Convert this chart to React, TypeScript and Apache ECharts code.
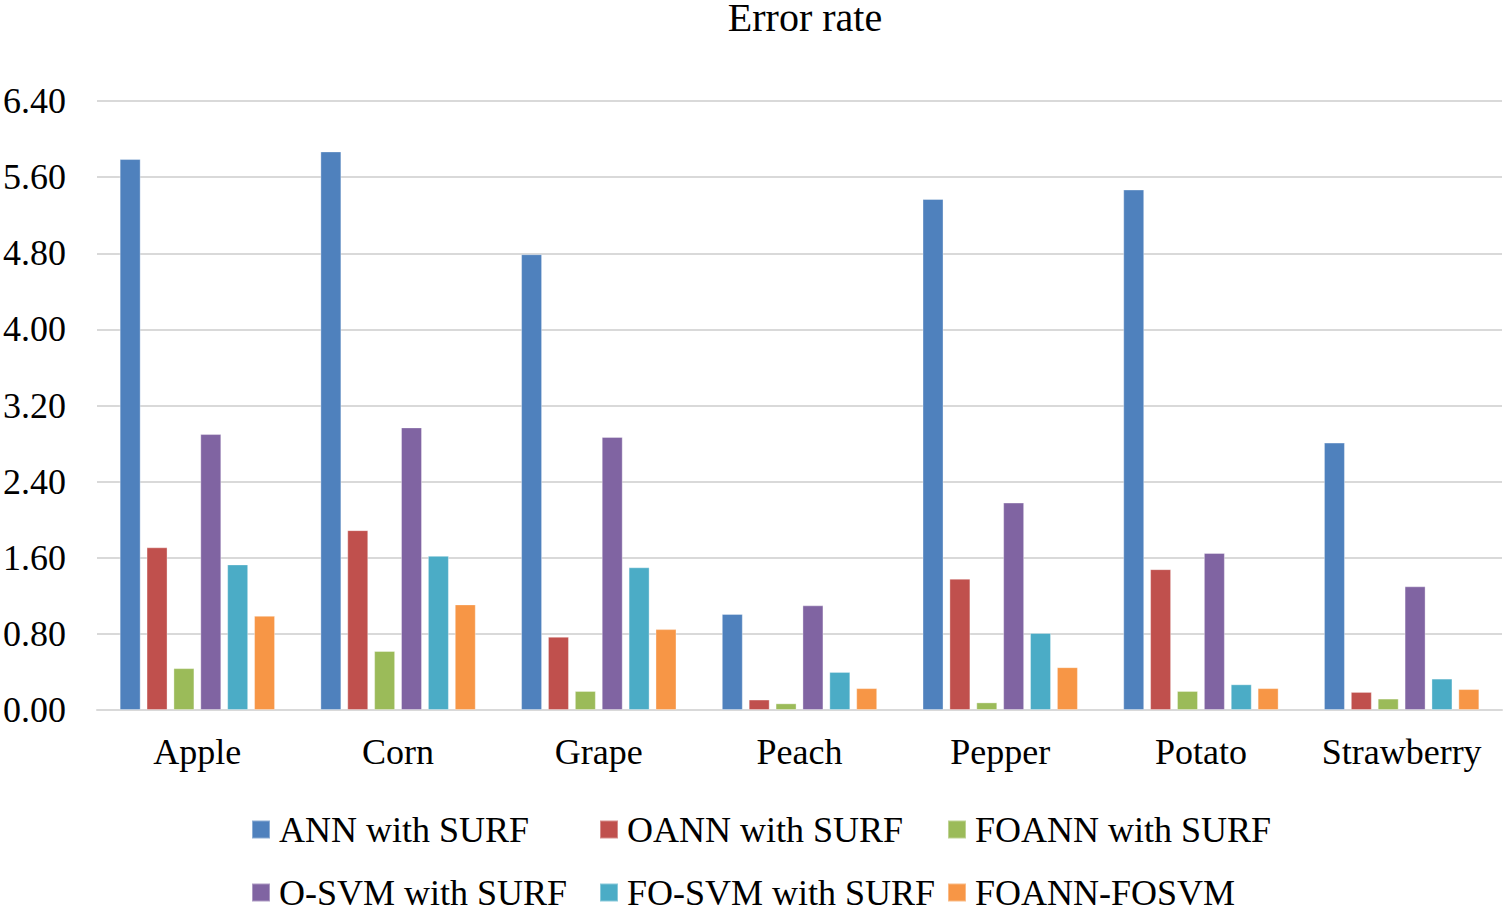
import React, { useEffect, useRef } from "react";
import * as echarts from "echarts";

const categories = ["Apple", "Corn", "Grape", "Peach", "Pepper", "Potato", "Strawberry"];
const seriesNames = [
  "ANN with SURF",
  "OANN with SURF",
  "FOANN with SURF",
  "O-SVM with SURF",
  "FO-SVM with SURF",
  "FOANN-FOSVM",
];
const annSurf = [5.79, 5.87, 4.79, 1.01, 5.37, 5.47, 2.81];
const oannSurf = [1.71, 1.89, 0.77, 0.11, 1.38, 1.48, 0.19];
const foannSurf = [0.44, 0.62, 0.2, 0.07, 0.08, 0.2, 0.12];
const osvmSurf = [2.9, 2.97, 2.87, 1.1, 2.18, 1.65, 1.3];
const fosvmSurf = [1.53, 1.62, 1.5, 0.4, 0.81, 0.27, 0.33];
const foannFosvm = [0.99, 1.11, 0.85, 0.23, 0.45, 0.23, 0.22];
const seriesValues = [annSurf, oannSurf, foannSurf, osvmSurf, fosvmSurf, foannFosvm];
const colors = ["#4F81BD", "#C0504D", "#9BBB59", "#8064A2", "#4BACC6", "#F79646"];

const FONT = "'Liberation Serif', 'Times New Roman', serif";

export default function App() {
  const ref = useRef<HTMLDivElement>(null);
  useEffect(() => {
    if (!ref.current) return;
    const chart = echarts.init(ref.current, null, { renderer: "svg" });
    chart.setOption({
      animation: false,
      color: colors,
      textStyle: { fontFamily: FONT, color: "#000" },
      title: {
        text: "Error rate",
        left: 800,
        textAlign: "center",
        top: -8,
        textStyle: { fontFamily: FONT, fontSize: 40, fontWeight: "normal", color: "#000" },
      },
      grid: { left: 97, right: 3, top: 101, bottom: 200, containLabel: false },
      legend: {
        left: 251,
        top: 803,
        width: 1060,
        padding: 0,
        itemWidth: 18,
        itemHeight: 18,
        itemGap: 10,
        icon: "rect",
        textStyle: {
          fontFamily: FONT,
          fontSize: 36,
          color: "#000",
          width: 310,
          lineHeight: 53,
          padding: [0, 0, 0, 4],
        },
        data: seriesNames,
      },
      xAxis: {
        type: "category",
        data: categories,
        axisTick: { show: false },
        axisLine: { lineStyle: { color: "#d9d9d9", width: 2 } },
        axisLabel: { fontFamily: FONT, fontSize: 36, color: "#000", margin: 24, interval: 0 },
      },
      yAxis: {
        type: "value",
        min: 0,
        max: 6.4,
        interval: 0.8,
        axisLine: { show: false },
        axisTick: { show: false },
        splitLine: { lineStyle: { color: "#d9d9d9", width: 2 } },
        axisLabel: {
          fontFamily: FONT,
          fontSize: 36,
          color: "#000",
          margin: 31,
          formatter: (v: number) => v.toFixed(2),
        },
      },
      series: seriesNames.map((name, i) => ({
        name,
        type: "bar",
        data: seriesValues[i],
        barWidth: 21,
        barGap: "28%",
        itemStyle: { color: colors[i], borderColor: "rgba(255,255,255,0.35)", borderWidth: 1 },
      })),
    });
    return () => chart.dispose();
  }, []);
  return <div ref={ref} style={{ width: 1505, height: 910, position: "absolute", left: 0, top: 0 }} />;
}
